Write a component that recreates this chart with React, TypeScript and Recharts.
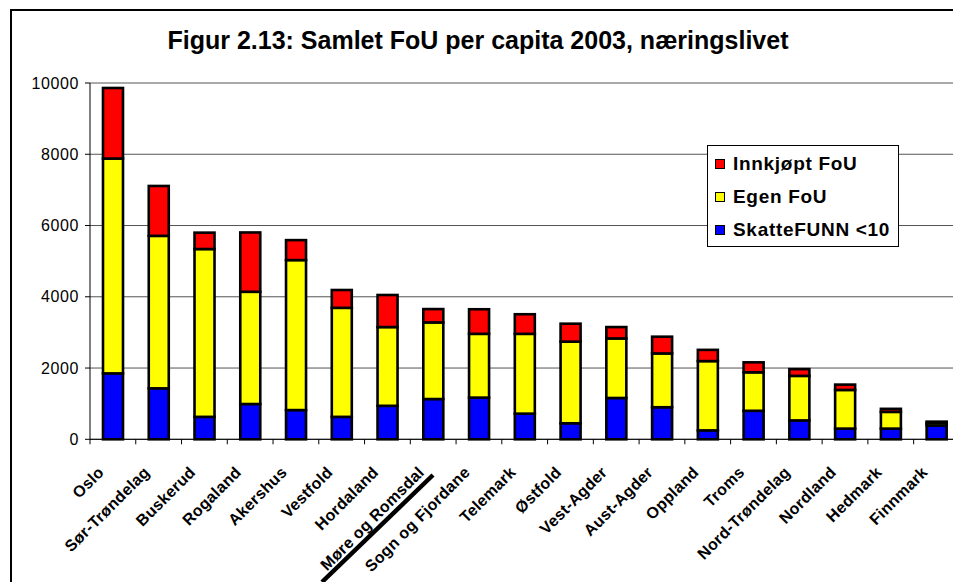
import React from 'react';
import { BarChart, Bar, XAxis, YAxis, CartesianGrid } from 'recharts';

const regions = [
    'Oslo', 'Sør-Trøndelag', 'Buskerud', 'Rogaland', 'Akershus', 'Vestfold', 'Hordaland',
    'Møre og Romsdal', 'Sogn og Fjordane', 'Telemark', 'Østfold', 'Vest-Agder', 'Aust-Agder',
    'Oppland', 'Troms', 'Nord-Trøndelag', 'Nordland', 'Hedmark', 'Finnmark',
];
const skattefunn = [1850, 1430, 630, 990, 820, 630, 940, 1130, 1170, 720, 450, 1160, 900, 250, 800, 530, 300, 300, 390];
const egenFou = [6030, 4280, 4710, 3150, 4210, 3060, 2210, 2150, 1790, 2240, 2290, 1670, 1510, 1945, 1080, 1250, 1085, 470, 75];
const innkjoptFou = [1980, 1400, 460, 1665, 560, 500, 900, 375, 690, 550, 505, 320, 470, 315, 280, 190, 150, 85, 30];
const yTicks = [0, 2000, 4000, 6000, 8000, 10000];

const series = [
    { key: 'innkjopt', name: 'Innkjøpt FoU', color: '#FF0000' },
    { key: 'egen', name: 'Egen FoU', color: '#FFFF00' },
    { key: 'skattefunn', name: 'SkatteFUNN <10', color: '#0000FF' },
];

const data = regions.map((name, i) => ({
    name,
    skattefunn: skattefunn[i],
    egen: egenFou[i],
    innkjopt: innkjoptFou[i],
}));

const CHART_W = 975;
const CHART_H = 620;
const MARGIN = { top: 83, right: 15.6, bottom: 30.7, left: 0 };
const Y_W = 90;
const BAND = (CHART_W - MARGIN.right - MARGIN.left - Y_W) / regions.length;
const FONT = '"Liberation Sans", Arial, sans-serif';

// bars with a black outline, like the original Excel look
const OutlinedBar = (props: any) => {
    const { x, y, width, height, fill } = props;
    if (!height || height <= 0) return null;
    return (
        <g>
            <rect x={x} y={y} width={width} height={height} fill={fill} />
            <rect x={x} y={y} width={width} height={height} fill="none" stroke="#000" strokeWidth={2.6} />
        </g>
    );
};

const XTick = (props: any) => {
    const { x, y, payload, index } = props;
    const last = index === regions.length - 1;
    return (
        <g>
            <line x1={x - BAND / 2} y1={y} x2={x - BAND / 2} y2={y + 5} stroke="#000" />
            {last && <line x1={x + BAND / 2} y1={y} x2={x + BAND / 2} y2={y + 5} stroke="#000" />}
            <g transform={`translate(${x - 8},${y + 34})`}>
                <text
                    textAnchor="end"
                    transform="rotate(-45)"
                    fontFamily={FONT}
                    fontWeight="bold"
                    fontSize={16}
                    letterSpacing={0.3}
                    fill="#000"
                >
                    {payload.value}
                </text>
            </g>
        </g>
    );
};

const App: React.FC = () => {
    return (
        <div style={{ position: 'fixed', left: 0, top: 0, width: 953, height: 582, overflow: 'hidden', background: '#fff' }}>
            <BarChart width={CHART_W} height={CHART_H} data={data} margin={MARGIN} barSize={20}>
                <CartesianGrid vertical={false} stroke="#555" />
                <XAxis
                    dataKey="name"
                    interval={0}
                    tickLine={false}
                    tickSize={0}
                    tickMargin={0}
                    height={150}
                    axisLine={{ stroke: '#000' }}
                    tick={<XTick />}
                />
                <YAxis
                    domain={[0, 10000]}
                    ticks={yTicks}
                    width={Y_W}
                    tickSize={5}
                    tickMargin={6}
                    axisLine={{ stroke: '#000' }}
                    tickLine={{ stroke: '#000' }}
                    tick={{ fill: '#000', fontSize: 16, fontFamily: FONT, letterSpacing: 0.6 }}
                />
                <Bar dataKey="skattefunn" stackId="a" fill="#0000FF" shape={OutlinedBar} isAnimationActive={false} />
                <Bar dataKey="egen" stackId="a" fill="#FFFF00" shape={OutlinedBar} isAnimationActive={false} />
                <Bar dataKey="innkjopt" stackId="a" fill="#FF0000" shape={OutlinedBar} isAnimationActive={false} />
            </BarChart>

            {/* Legend */}
            <div
                style={{
                    position: 'absolute', left: 707, top: 145, width: 192, height: 102, boxSizing: 'border-box',
                    border: '1px solid #000', background: '#fff', paddingTop: 1, paddingLeft: 7,
                    fontFamily: FONT, fontWeight: 'bold', fontSize: 19, letterSpacing: 0.7,
                }}
            >
                {series.map((s) => (
                    <div key={s.key} style={{ height: 33, display: 'flex', alignItems: 'center' }}>
                        <div style={{ width: 10, height: 10, boxSizing: 'border-box', border: '1px solid #000', background: s.color, marginRight: 8 }} />
                        <span style={{ whiteSpace: 'nowrap' }}>{s.name}</span>
                    </div>
                ))}
            </div>

            {/* Frame, title and marker line */}
            <svg width={953} height={582} style={{ position: 'absolute', left: 0, top: 0, pointerEvents: 'none' }}>
                <rect x={11} y={10} width={1000} height={1000} fill="none" stroke="#000" strokeWidth={2} />
                <text x={478} y={49} textAnchor="middle" fontFamily={FONT} fontWeight="bold" fontSize={25} fill="#000">
                    Figur 2.13: Samlet FoU per capita 2003, næringslivet
                </text>
                <line x1={433} y1={475} x2={322} y2={582} stroke="#000" strokeWidth={4.5} />
            </svg>
        </div>
    );
};

export default App;
